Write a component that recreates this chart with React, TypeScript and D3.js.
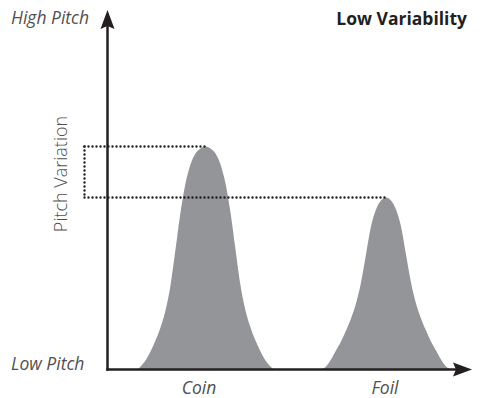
import React from "react";
import * as d3 from "d3";

// Profiles (x: arbitrary frequency units, y: pitch units)
const coinX = [30, 33, 38, 43, 48, 53, 58, 63, 68, 73, 78, 83, 88, 93, 98, 103, 108, 113, 118, 123, 128, 133, 138, 143, 148, 153, 158, 163, 166];
const coinY = [0, 3, 9, 18, 29, 42, 59, 84, 120, 157, 186, 205, 216, 221, 223, 221, 216, 205, 186, 157, 120, 84, 59, 42, 29, 18, 9, 3, 0];
const foilX = [212.5, 218.5, 223.5, 228.5, 233.5, 238.5, 243.5, 248.5, 253.5, 258.5, 263.5, 268.5, 273.5, 278.5, 283.5, 288.5, 293.5, 298.5, 303.5, 308.5, 313.5, 318.5, 323.5, 328.5, 333.5, 338.5, 344.5];
const foilY = [0, 3, 10, 19, 28, 39, 51, 66, 87, 115, 143, 160, 169, 172, 169, 160, 143, 115, 87, 66, 51, 39, 28, 19, 10, 3, 0];

const categories = ["Coin", "Foil"];
const categoryX = [91.5, 277.5];
const peakX = [101, 281];
const peakY = [223, 172];
const refStartX = -23;

const yLabels = ["High Pitch", "Low Pitch"];
const yAxisTitle = "Pitch Variation";
const chartTitle = "Low Variability";

const W = 482;
const H = 398;

export default function App() {
  const x = d3.scaleLinear().domain([0, 360]).range([107.5, 467.5]);
  const y = d3.scaleLinear().domain([0, 350]).range([369.5, 19.5]);

  const area = d3
    .area<[number, number]>()
    .x((d) => x(d[0]))
    .y0(y(0))
    .y1((d) => y(d[1]))
    .curve(d3.curveMonotoneX);

  const coin = coinX.map((v, i) => [v, coinY[i]] as [number, number]);
  const foil = foilX.map((v, i) => [v, foilY[i]] as [number, number]);

  const axisColor = "#231f20";
  const textColor = "#505052";
  const font = "'Open Sans', 'Noto Sans', sans-serif";

  const x0 = x(0);
  const y0 = y(0);

  const dotStyle = {
    stroke: axisColor,
    strokeWidth: 2.4,
    strokeDasharray: "0 4",
    strokeLinecap: "round" as const,
    fill: "none",
  };

  return (
    <svg
      width={W}
      height={H}
      viewBox={`0 0 ${W} ${H}`}
      style={{ position: "absolute", left: 0, top: 0, background: "#fff" }}
    >
      {/* distributions */}
      <path d={area(coin) || ""} fill="#939598" />
      <path d={area(foil) || ""} fill="#939598" />

      {/* dotted reference lines */}
      {peakY.map((p, i) => (
        <line key={i} x1={x(refStartX)} x2={x(peakX[i])} y1={y(p)} y2={y(p)} style={dotStyle} />
      ))}
      <line
        x1={x(refStartX)}
        x2={x(refStartX)}
        y1={y(peakY[0])}
        y2={y(peakY[1])}
        style={dotStyle}
      />

      {/* axes */}
      <line x1={x0} x2={x0} y1={y0 + 1.2} y2={26} stroke={axisColor} strokeWidth={2.5} />
      <line x1={x0 - 1.2} x2={457} y1={y0} y2={y0} stroke={axisColor} strokeWidth={2.5} />
      <path
        d={`M${x0},10 L${x0 + 7},29 L${x0},26 L${x0 - 7},29 Z`}
        fill={axisColor}
      />
      <path
        d={`M472,${y0} L453,${y0 - 7} L456,${y0} L453,${y0 + 7} Z`}
        fill={axisColor}
      />

      {/* labels */}
      <text x={11} y={24} fontFamily={font} fontStyle="italic" fontSize={17.5} fill={textColor}>
        {yLabels[0]}
      </text>
      <text x={11} y={370} fontFamily={font} fontStyle="italic" fontSize={17.5} fill={textColor}>
        {yLabels[1]}
      </text>
      <text
        x={467}
        y={25}
        textAnchor="end"
        fontFamily={font}
        fontWeight="bold"
        fontSize={17.5}
        fill={axisColor}
      >
        {chartTitle}
      </text>
      <text
        transform={`translate(67,174) rotate(-90)`}
        textAnchor="middle"
        fontFamily={font}
        fontWeight={300}
        fontSize={18}
        fill={textColor}
      >
        {yAxisTitle}
      </text>
      {categories.map((c, i) => (
        <text
          key={c}
          x={x(categoryX[i])}
          y={394}
          textAnchor="middle"
          fontFamily={font}
          fontStyle="italic"
          fontSize={17.5}
          fill={textColor}
        >
          {c}
        </text>
      ))}
    </svg>
  );
}
